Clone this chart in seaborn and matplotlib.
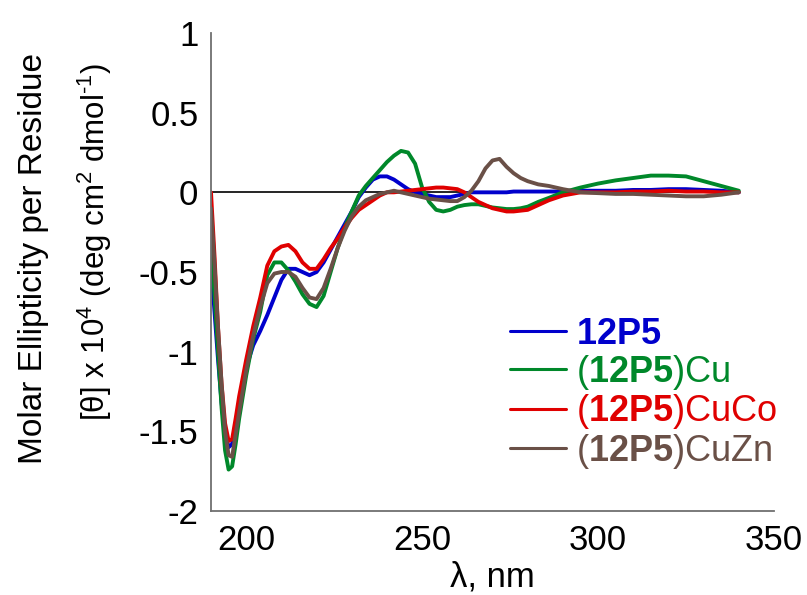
import numpy as np
import pandas as pd
import matplotlib
matplotlib.use('Agg')
import matplotlib.pyplot as plt
import seaborn as sns

# wavelength grid (nm)
wl = [190, 191, 192, 193, 194, 195, 196, 197, 198, 200, 202, 204, 206, 208, 210,
      212, 214, 216, 218, 220, 222, 224, 226, 228, 230, 232, 234, 236, 238, 240,
      242, 244, 246, 248, 250, 252, 254, 256, 258, 260, 262, 264, 266, 268, 270,
      272, 274, 276, 278, 280, 283, 286, 290, 295, 300, 305, 310, 315, 320, 325,
      330, 335, 340]

p12 = [-0.45, -0.75, -1.05, -1.32, -1.52, -1.60, -1.58, -1.45, -1.32, -1.10, -0.96, -0.87, -0.77, -0.66, -0.55,
       -0.48, -0.48, -0.50, -0.52, -0.50, -0.44, -0.36, -0.28, -0.20, -0.12, -0.03, 0.03, 0.08, 0.10, 0.10,
       0.08, 0.05, 0.02, 0.00, -0.01, -0.02, -0.03, -0.03, -0.03, -0.02, -0.01, 0.0, 0.0, 0.0, 0.0,
       0.0, 0.0, 0.005, 0.005, 0.005, 0.005, 0.005, 0.005, 0.01, 0.01, 0.01, 0.015, 0.015, 0.02, 0.02,
       0.015, 0.01, 0.0]

p12_cu = [-0.30, -0.65, -1.00, -1.35, -1.62, -1.74, -1.72, -1.58, -1.42, -1.15, -0.92, -0.75, -0.52, -0.44, -0.44,
          -0.49, -0.56, -0.64, -0.70, -0.72, -0.65, -0.50, -0.35, -0.22, -0.12, -0.02, 0.04, 0.09, 0.14, 0.19,
          0.23, 0.26, 0.25, 0.18, 0.03, -0.06, -0.11, -0.12, -0.11, -0.09, -0.08, -0.075, -0.075, -0.085, -0.095,
          -0.10, -0.105, -0.105, -0.10, -0.09, -0.06, -0.035, 0.0, 0.03, 0.055, 0.075, 0.09, 0.105, 0.105, 0.10,
          0.07, 0.04, 0.01]

p12_cuco = [0.0, -0.40, -0.85, -1.20, -1.45, -1.56, -1.55, -1.42, -1.28, -1.05, -0.84, -0.66, -0.46, -0.37, -0.34,
            -0.33, -0.37, -0.44, -0.48, -0.48, -0.42, -0.35, -0.29, -0.22, -0.16, -0.11, -0.08, -0.05, -0.02, 0.0,
            0.0, 0.005, 0.01, 0.015, 0.02, 0.025, 0.03, 0.03, 0.025, 0.02, 0.0, -0.03, -0.06, -0.08, -0.10,
            -0.11, -0.12, -0.12, -0.115, -0.11, -0.08, -0.05, -0.02, 0.0, 0.0, 0.0, 0.005, 0.005, 0.01, 0.005,
            0.005, 0.0, 0.0]

p12_cuzn = [-0.10, -0.45, -0.85, -1.20, -1.50, -1.65, -1.66, -1.52, -1.38, -1.12, -0.90, -0.72, -0.57, -0.51, -0.50,
            -0.50, -0.53, -0.60, -0.66, -0.67, -0.60, -0.48, -0.35, -0.24, -0.15, -0.09, -0.05, -0.03, -0.01, 0.0,
            0.01, 0.0, -0.01, -0.02, -0.03, -0.04, -0.045, -0.05, -0.055, -0.055, -0.03, 0.01, 0.07, 0.15, 0.20,
            0.21, 0.16, 0.12, 0.09, 0.07, 0.05, 0.04, 0.02, 0.0, -0.005, -0.01, -0.01, -0.015, -0.02, -0.025,
            -0.025, -0.015, 0.0]

names = ['12P5', '(12P5)Cu', '(12P5)CuCo', '(12P5)CuZn']
labels = [r'$\mathbf{12P5}$', r'($\mathbf{12P5}$)Cu', r'($\mathbf{12P5}$)CuCo', r'($\mathbf{12P5}$)CuZn']
colors = ['#0000CC', '#00882A', '#E00000', '#6A5047']

df = pd.concat([
    pd.DataFrame({'wl': wl, 'theta': vals, 'sample': n})
    for n, vals in zip(names, [p12, p12_cu, p12_cuco, p12_cuzn])
])

sns.set_style('white')
plt.rcParams['font.family'] = ['Liberation Sans', 'DejaVu Sans']
plt.rcParams['mathtext.fontset'] = 'custom'
plt.rcParams['mathtext.rm'] = 'Liberation Sans'
plt.rcParams['mathtext.it'] = 'Liberation Sans:italic'
plt.rcParams['mathtext.bf'] = 'Liberation Sans:bold'
plt.rcParams['axes.unicode_minus'] = False
plt.rcParams['text.color'] = 'black'
plt.rcParams['xtick.color'] = 'black'
plt.rcParams['ytick.color'] = 'black'
plt.rcParams['axes.labelcolor'] = 'black'

fig = plt.figure(figsize=(8.07, 5.95), dpi=100)
ax = fig.add_axes([211 / 807, 84 / 595, 563 / 807, 478 / 595])

ax.hlines(0, wl[0], wl[-1], color='black', lw=1.2, zorder=1)
sns.lineplot(data=df, x='wl', y='theta', hue='sample', hue_order=names,
             palette=colors, lw=2.8, ax=ax, legend=False, sort=False, zorder=2)

ax.set_xlim(190, 350)
ax.set_ylim(-2, 1)
ax.set_xticks([200, 250, 300, 350])
ax.set_yticks([-2, -1.5, -1, -0.5, 0, 0.5, 1])
ax.yaxis.set_major_formatter(plt.FuncFormatter(lambda v, p: '%g' % v))
ax.tick_params(axis='both', direction='in', length=8, width=1.2,
               labelsize=25, pad=9)
ax.tick_params(axis='both', color='#404040')
for s in ['top', 'right']:
    ax.spines[s].set_visible(False)
for s in ['left', 'bottom']:
    ax.spines[s].set_color('#707070')
    ax.spines[s].set_linewidth(1.3)

ax.set_xlabel('λ, nm', fontsize=25, labelpad=3)
ax.set_ylabel('')
fig.text(34 / 807, 1 - 258 / 595, 'Molar Ellipticity per Residue', rotation=90,
         ha='center', va='center', fontsize=24)
fig.text(95 / 807, 1 - 242 / 595, r'[θ] x 10$^{4}$ (deg cm$^{2}$ dmol$^{\text{-}1}$)', rotation=90,
         ha='center', va='center', fontsize=22.5)

handles = [plt.Line2D([], [], color=c, lw=2.2) for c in colors]
leg = ax.legend(handles, labels, loc='center left', bbox_to_anchor=(0.531, 0.245),
                frameon=False, fontsize=26, handlelength=1.55, handletextpad=0.28,
                labelspacing=0.02, borderaxespad=0, borderpad=0)
for t, c in zip(leg.get_texts(), colors):
    t.set_color(c)

fig.savefig('out.png', dpi=100)
